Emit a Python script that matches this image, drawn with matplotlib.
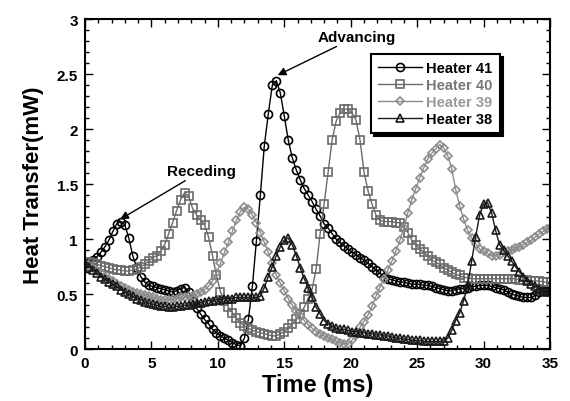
import numpy as np
import matplotlib
matplotlib.use("Agg")
import matplotlib.pyplot as plt
from matplotlib.ticker import MultipleLocator, FormatStrFormatter

plt.rcParams['font.family'] = ['Liberation Sans', 'DejaVu Sans']
plt.rcParams['font.weight'] = 'bold'

# sample time step 0.3 ms
time_ms = np.arange(118) * 0.3

heater41 = [0.78, 0.79, 0.81, 0.84, 0.88, 0.93, 0.99, 1.07, 1.14, 1.16,
            1.13, 1.01, 0.85, 0.74, 0.66, 0.61, 0.58, 0.57, 0.56, 0.55,
            0.54, 0.53, 0.52, 0.53, 0.55, 0.56, 0.52, 0.44, 0.37, 0.32,
            0.27, 0.23, 0.18, 0.15, 0.12, 0.10, 0.08, 0.06, 0.04, 0.03,
            0.10, 0.27, 0.57, 0.98, 1.40, 1.85, 2.14, 2.40, 2.44, 2.33,
            2.12, 1.90, 1.74, 1.63, 1.54, 1.46, 1.40, 1.34, 1.27, 1.21,
            1.14, 1.10, 1.05, 1.00, 0.97, 0.94, 0.91, 0.88, 0.86, 0.83,
            0.81, 0.78, 0.75, 0.72, 0.69, 0.66, 0.64, 0.63, 0.62, 0.61,
            0.61, 0.60, 0.59, 0.59, 0.59, 0.58, 0.58, 0.57, 0.56, 0.55,
            0.54, 0.53, 0.53, 0.54, 0.55, 0.55, 0.56, 0.57, 0.57, 0.58,
            0.58, 0.58, 0.57, 0.56, 0.55, 0.54, 0.52, 0.50, 0.49, 0.48,
            0.47, 0.47, 0.47, 0.49, 0.52, 0.53, 0.53, 0.53]

heater40 = [0.79, 0.79, 0.78, 0.77, 0.76, 0.75, 0.74, 0.73, 0.72, 0.72,
            0.71, 0.71, 0.72, 0.73, 0.75, 0.77, 0.80, 0.83, 0.85, 0.89,
            0.95, 1.05, 1.15, 1.26, 1.36, 1.42, 1.39, 1.28, 1.22, 1.17,
            1.13, 1.02, 0.85, 0.67, 0.52, 0.44, 0.38, 0.33, 0.28, 0.24,
            0.21, 0.19, 0.17, 0.16, 0.15, 0.14, 0.13, 0.12, 0.12, 0.14,
            0.16, 0.19, 0.23, 0.27, 0.32, 0.38, 0.46, 0.55, 0.73, 1.05,
            1.32, 1.61, 1.90, 2.07, 2.15, 2.18, 2.18, 2.15, 2.08, 1.90,
            1.61, 1.44, 1.32, 1.22, 1.17, 1.16, 1.16, 1.16, 1.15, 1.15,
            1.11, 1.06, 0.99, 0.95, 0.91, 0.88, 0.85, 0.81, 0.79, 0.77,
            0.74, 0.72, 0.70, 0.68, 0.67, 0.65, 0.65, 0.64, 0.64, 0.64,
            0.64, 0.64, 0.64, 0.64, 0.64, 0.64, 0.64, 0.64, 0.64, 0.63,
            0.63, 0.63, 0.62, 0.62, 0.62, 0.61, 0.61, 0.61]

heater39 = [0.78, 0.76, 0.74, 0.71, 0.69, 0.66, 0.64, 0.62, 0.59, 0.57,
            0.56, 0.54, 0.52, 0.51, 0.50, 0.49, 0.48, 0.47, 0.46, 0.45,
            0.45, 0.45, 0.46, 0.46, 0.47, 0.47, 0.48, 0.48, 0.50, 0.52,
            0.54, 0.57, 0.62, 0.69, 0.78, 0.88, 0.97, 1.07, 1.17, 1.25,
            1.29, 1.27, 1.22, 1.15, 1.06, 0.97, 0.88, 0.78, 0.67, 0.60,
            0.53, 0.46, 0.40, 0.35, 0.30, 0.26, 0.22, 0.19, 0.16, 0.14,
            0.12, 0.10, 0.09, 0.07, 0.06, 0.05, 0.05, 0.08, 0.13, 0.20,
            0.25, 0.31, 0.39, 0.48, 0.56, 0.64, 0.72, 0.80, 0.89, 0.99,
            1.10, 1.24, 1.36, 1.46, 1.56, 1.65, 1.73, 1.78, 1.82, 1.86,
            1.83, 1.76, 1.64, 1.45, 1.30, 1.18, 1.08, 1.01, 0.96, 0.91,
            0.89, 0.87, 0.85, 0.85, 0.86, 0.88, 0.89, 0.90, 0.92, 0.93,
            0.95, 0.97, 0.99, 1.02, 1.05, 1.07, 1.09, 1.11]

heater38 = [0.78, 0.75, 0.72, 0.69, 0.66, 0.64, 0.61, 0.59, 0.57, 0.54,
            0.52, 0.50, 0.48, 0.46, 0.45, 0.43, 0.42, 0.41, 0.40, 0.39,
            0.39, 0.38, 0.38, 0.39, 0.39, 0.40, 0.40, 0.41, 0.42, 0.42,
            0.43, 0.44, 0.44, 0.45, 0.45, 0.46, 0.46, 0.46, 0.47, 0.47,
            0.47, 0.47, 0.47, 0.47, 0.48, 0.56, 0.66, 0.75, 0.85, 0.93,
            0.99, 1.01, 0.95, 0.85, 0.74, 0.64, 0.56, 0.47, 0.38, 0.32,
            0.26, 0.23, 0.21, 0.19, 0.18, 0.18, 0.17, 0.16, 0.16, 0.15,
            0.15, 0.14, 0.14, 0.13, 0.13, 0.12, 0.12, 0.11, 0.10, 0.10,
            0.09, 0.09, 0.08, 0.08, 0.08, 0.07, 0.07, 0.07, 0.07, 0.07,
            0.07, 0.10, 0.17, 0.26, 0.33, 0.44, 0.58, 0.80, 1.02, 1.22,
            1.32, 1.33, 1.24, 1.08, 0.95, 0.90, 0.85, 0.80, 0.75, 0.70,
            0.66, 0.62, 0.59, 0.57, 0.55, 0.53, 0.52, 0.52]

labels = ["Heater 41", "Heater 40", "Heater 39", "Heater 38"]
colors = ["black", "#6a6a6a", "#8c8c8c", "#1a1a1a"]
label_colors = ["black", "#777777", "#999999", "black"]

fig = plt.figure(figsize=(5.7, 4.02), dpi=100)
ax = fig.add_axes([0.149, 0.129, 0.816, 0.821])

series = [heater41, heater40, heater39, heater38]
markers = ['o', 's', 'D', '^']
msizes = [5.8, 5.8, 4.0, 5.8]
for y, lab, c, m, ms in zip(series, labels, colors, markers, msizes):
    ax.plot(time_ms, y, color=c, lw=1.0, marker=m, ms=ms, mfc='none',
            mec=c, mew=1.2, label=lab)

ax.set_xlim(0, 35)
ax.set_ylim(0, 3)
ax.xaxis.set_major_locator(MultipleLocator(5))
ax.xaxis.set_minor_locator(MultipleLocator(1))
ax.yaxis.set_major_locator(MultipleLocator(0.5))
ax.yaxis.set_minor_locator(MultipleLocator(0.1))
ax.yaxis.set_major_formatter(FormatStrFormatter('%g'))
ax.tick_params(which='both', direction='in', top=True, right=True,
               labelsize=11, width=1.0)
ax.tick_params(which='major', length=6, pad=5)
ax.tick_params(which='minor', length=3)
for sp in ax.spines.values():
    sp.set_linewidth(1.5)

ax.set_xlabel("Time (ms)", fontsize=17, fontweight='bold', labelpad=2)
ax.set_ylabel("Heat Transfer(mW)", fontsize=16, fontweight='bold', labelpad=9)

ax.annotate("Receding", xy=(2.65, 1.18), xytext=(6.2, 1.62),
            fontsize=11, fontweight='bold', va='center', ha='left',
            arrowprops=dict(arrowstyle='-|>', color='black', lw=1.0,
                            shrinkA=0, shrinkB=0, mutation_scale=12))
ax.annotate("Advancing", xy=(14.5, 2.49), xytext=(17.5, 2.84),
            fontsize=11, fontweight='bold', va='center', ha='left',
            arrowprops=dict(arrowstyle='-|>', color='black', lw=1.0,
                            shrinkA=0, shrinkB=0, mutation_scale=12))

leg = ax.legend(loc='upper left', bbox_to_anchor=(0.615, 0.894),
                borderaxespad=0, fancybox=False, shadow={'color': 'black', 'alpha': 1},
                edgecolor='black', framealpha=1, fontsize=10.5,
                handlelength=3.0, labelspacing=0.2, borderpad=0.5,
                handletextpad=0.3)
leg.get_frame().set_linewidth(1.5)
for txt, lc in zip(leg.get_texts(), label_colors):
    txt.set_color(lc)
    txt.set_fontweight('bold')

fig.savefig("out.png", dpi=100)
